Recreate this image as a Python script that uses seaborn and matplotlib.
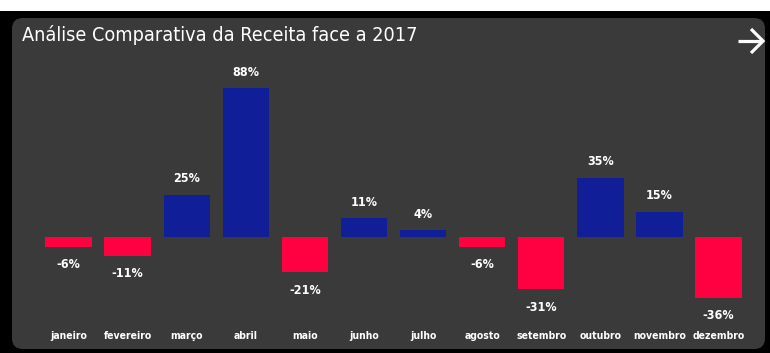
import matplotlib
matplotlib.use("Agg")
import matplotlib.pyplot as plt
from matplotlib.patches import FancyBboxPatch, Rectangle
from matplotlib.lines import Line2D
import seaborn as sns
import pandas as pd

# Monthly revenue change versus 2017 (%)
months = ["janeiro", "fevereiro", "março", "abril", "maio", "junho",
          "julho", "agosto", "setembro", "outubro", "novembro", "dezembro"]
change_pct = [-6, -11, 25, 88, -21, 11, 4, -6, -31, 35, 15, -36]

POS_COLOR = "#101E98"
NEG_COLOR = "#FF0040"
PANEL_BG = "#3A3A3A"

sns.set_theme(style="white")
plt.rcParams["font.family"] = ["DejaVu Sans"]

W, H = 770, 353
fig = plt.figure(figsize=(W / 100, H / 100), dpi=100, facecolor="white")

# dark frame and rounded card
fig.patches.append(Rectangle((0, 0), 1, (H - 11) / H, transform=fig.transFigure,
                             facecolor="black", edgecolor="none", zorder=0))
card = FancyBboxPatch((12 / W, 4 / H), (753 / W), (331 / H),
                      boxstyle="round,pad=0,rounding_size=0.014",
                      transform=fig.transFigure, facecolor=PANEL_BG,
                      edgecolor="none", zorder=1, mutation_aspect=W / H)
fig.patches.append(card)

# axes geometry: one category = 59.1 px, zero line at y=237 px from top
unit = 59.1
px_per_pct = 1.69
ymin, ymax = -45, 95
ax_left = 68.5 - 0.5 * unit
ax_w = 12 * unit
ax_top = 237 - ymax * px_per_pct
ax_h = (ymax - ymin) * px_per_pct
ax = fig.add_axes([ax_left / W, (H - ax_top - ax_h) / H, ax_w / W, ax_h / H], zorder=2)
ax.patch.set_alpha(0)

df = pd.DataFrame({"mes": months, "var": change_pct})
colors = [POS_COLOR if v >= 0 else NEG_COLOR for v in change_pct]
sns.barplot(data=df, x="mes", y="var", hue="mes", palette=colors, legend=False,
            width=0.785, saturation=1, linewidth=0, edgecolor="none", ax=ax)

ax.set_xlim(-0.5, 11.5)
ax.set_ylim(ymin, ymax)
ax.set_xlabel("")
ax.set_ylabel("")
ax.set_yticks([])
for s in ax.spines.values():
    s.set_visible(False)
ax.tick_params(axis="x", length=0, pad=13, labelsize=7.5, labelcolor="white")
for t in ax.get_xticklabels():
    t.set_fontweight("bold")
    t.set_fontstretch("condensed")

for i, v in enumerate(change_pct):
    off = 7 if v >= 0 else -8
    ax.annotate(f"{v}%", (i, v), xytext=(0, off), textcoords="offset points",
                ha="center", va="bottom" if v >= 0 else "top",
                color="white", fontsize=9, fontweight="bold", fontstretch="condensed")

fig.text(22 / W, 1 - 35 / H, "Análise Comparativa da Receita face a 2017",
         color="white", fontsize=14.2, fontstretch="condensed", fontweight="medium",
         va="center", ha="left", zorder=3)

# navigation arrow in the card's top-right corner
def fpt(x, y):
    return x / W, 1 - y / H

arrow_kw = dict(color="white", linewidth=2.3, solid_capstyle="butt",
                solid_joinstyle="miter", transform=fig.transFigure, zorder=3)
sx, sy = zip(fpt(738, 41), fpt(762, 41))
fig.add_artist(Line2D(sx, sy, **arrow_kw))
hx, hy = zip(fpt(751, 29), fpt(763, 41), fpt(751, 53))
fig.add_artist(Line2D(hx, hy, **arrow_kw))

fig.savefig("out.png", dpi=100, facecolor=fig.get_facecolor())
